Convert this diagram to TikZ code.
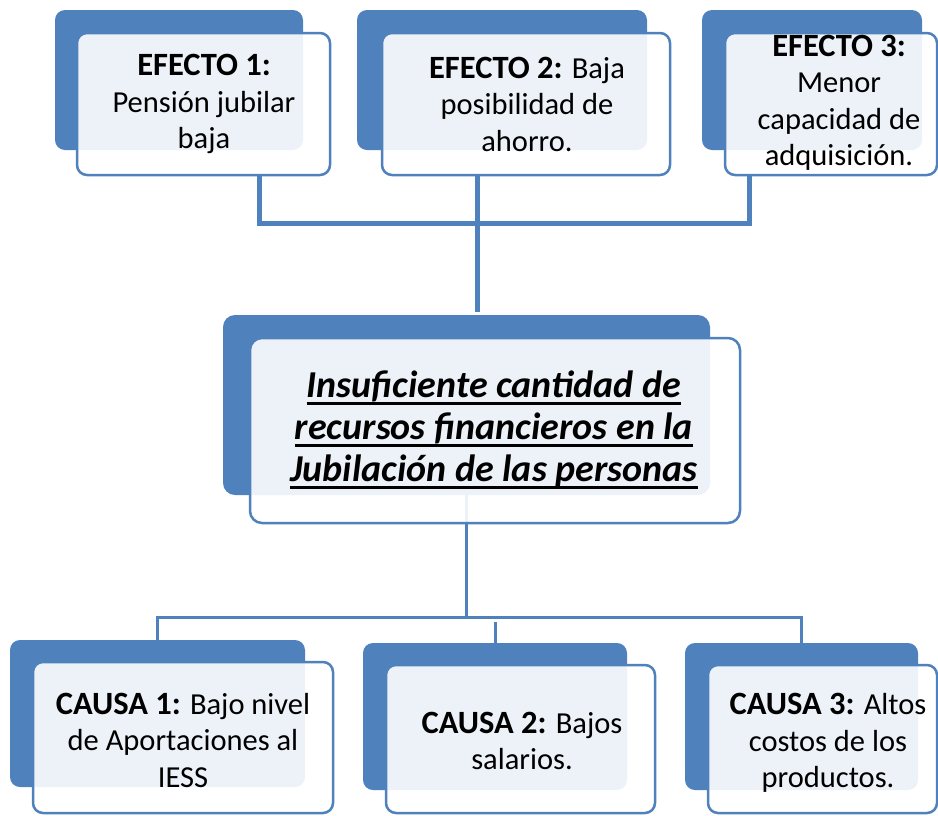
\documentclass[tikz,border=0pt]{standalone}
\usepackage{fontspec}
\setmainfont{Carlito}
\usetikzlibrary{calc}
\definecolor{accblue}{HTML}{4F81BD}
\newcommand\ulline[1]{\setbox0=\hbox{#1}\rlap{\copy0}\rule[-7pt]{\wd0}{3pt}}
\newcommand\lbl[1]{{\fontsize{32.5}{36.5}\selectfont\bfseries #1}}
\tikzset{
  backbox/.style={fill=accblue, rounded corners=10pt, inner sep=0pt},
  frontbox/.style={draw=accblue, line width=2.5pt, fill=white, fill opacity=0.9, rounded corners=10pt, inner sep=0pt},
  boxtext/.style={align=center, font=\fontsize{30.5}{36.5}\selectfont, inner sep=0pt, text=black},
  maintext/.style={align=center, font=\fontsize{38}{42}\selectfont\bfseries\itshape, inner sep=0pt, text=black},
  topline/.style={draw=accblue, line width=5pt, line join=miter},
  botline/.style={draw=accblue, line width=3pt, line join=miter}
}
\begin{document}
\begin{tikzpicture}[x=1pt,y=-1pt]
\useasboundingbox (0,0) rectangle (938,815);
% back boxes
\node[backbox, minimum width=248pt, minimum height=140pt] (e1b) at (179,80) {};
\node[backbox, minimum width=290pt, minimum height=140pt] (e2b) at (502,80) {};
\node[backbox, minimum width=220pt, minimum height=140pt] (e3b) at (812,80) {};
\node[backbox, minimum width=487pt, minimum height=180pt, rounded corners=12pt] (cb) at (466.5,405) {};
\node[backbox, minimum width=295pt, minimum height=147pt] (c1b) at (157.5,713.5) {};
\node[backbox, minimum width=264pt, minimum height=147pt] (c2b) at (495,716.5) {};
\node[backbox, minimum width=233pt, minimum height=147pt] (c3b) at (801.5,716.5) {};
% front boxes positions (needed for connectors)
\path (203.5,104) coordinate (e1c) (526,104) coordinate (e2c) (831,104) coordinate (e3c);
% connectors
\draw[topline] ($(e1c)+(55.5,71)$) coordinate (e1s) -- ++(0,48) -| ($(e3c)+(-82,71)$);
\draw[topline] ($(e2c)+(-49,71)$) -- ([xshift=10.5pt,yshift=3pt]cb.north);
\draw[botline] (cb.south) -- ++(0,122) -| (c1b.north);
\draw[botline] (cb.south) -- ++(0,122) -| (c3b.north);
\draw[botline] (c2b.north) -- ++(0,-21);
% front boxes
\node[frontbox, minimum width=253pt, minimum height=142pt] (e1f) at (e1c) {};
\node[frontbox, minimum width=288pt, minimum height=142pt] (e2f) at (e2c) {};
\node[frontbox, minimum width=212pt, minimum height=142pt] (e3f) at (e3c) {};
\node[frontbox, minimum width=490pt, minimum height=185pt, rounded corners=12pt] (cf) at (495,430.5) {};
\node[frontbox, minimum width=300pt, minimum height=151pt] (c1f) at (183,737.5) {};
\node[frontbox, minimum width=269pt, minimum height=148pt] (c2f) at (520.5,739) {};
\node[frontbox, minimum width=229pt, minimum height=148pt] (c3f) at (822.5,739) {};
% texts
\node[boxtext] (t1) at (204,104) {\lbl{EFECTO 1:}\\Pensión jubilar\\baja};
\node[boxtext] (t2) at (527,104) {\lbl{EFECTO 2:} Baja\\posibilidad de\\ahorro.};
\node[boxtext] (t3) at (839,103) {\lbl{EFECTO 3:}\\Menor\\capacidad de\\adquisición.};
\node[maintext] (tc) at (494,430) {\ulline{Insuficiente cantidad de}\\\ulline{recursos financieros en la}\\\ulline{Jubilación de las personas}};
\node[boxtext] (c1t) at (183,740) {\lbl{CAUSA 1:} Bajo nivel\\de Aportaciones al\\IESS};
\node[boxtext] (c2t) at (522,741) {\lbl{CAUSA 2:} Bajos\\salarios.};
\node[boxtext] (c3t) at (828,743) {\lbl{CAUSA 3:} Altos\\costos de los\\productos.};
\end{tikzpicture}
\end{document}
